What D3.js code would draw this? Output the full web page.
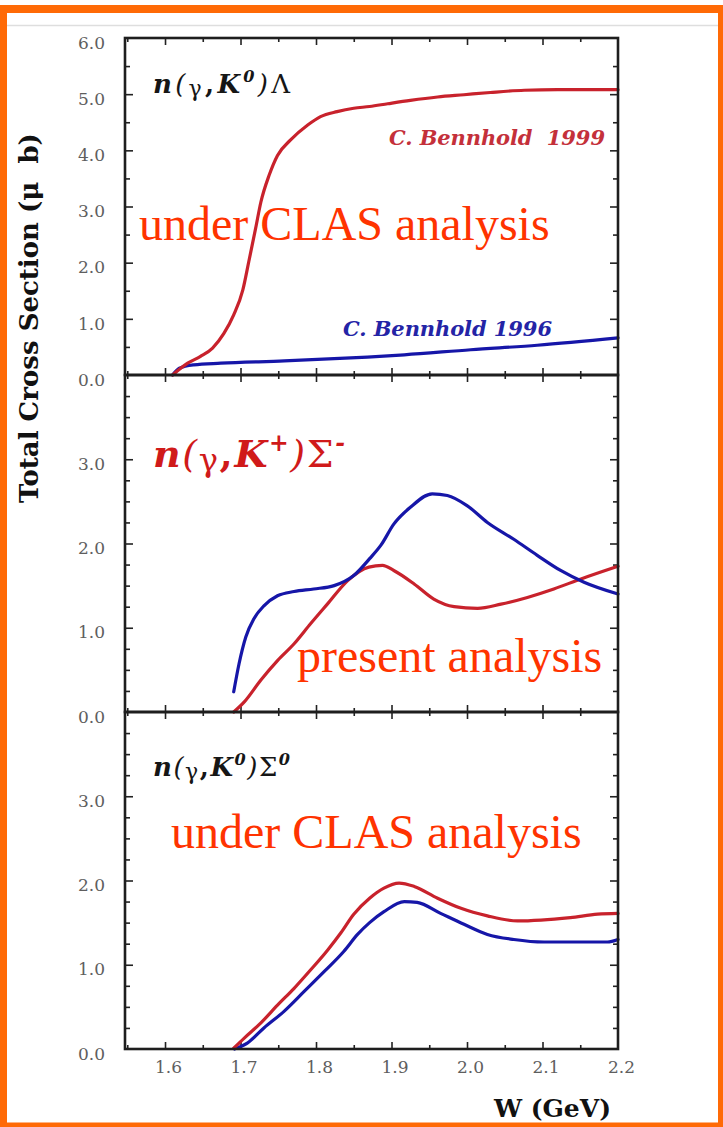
<!DOCTYPE html>
<html>
<head>
<meta charset="utf-8">
<script src="https://cdn.jsdelivr.net/npm/d3@7"></script>
<style>
  body { margin: 0; background: #fff; }
  svg { display: block; }
</style>
</head>
<body>
<svg id="chart" width="723" height="1127"></svg>
<script>
// ---- data: total cross section (μb) versus W (GeV) ----
const wTicks = [1.6, 1.7, 1.8, 1.9, 2.0, 2.1, 2.2];
const topYTicks = [0, 1, 2, 3, 4, 5, 6];
const midYTicks = [0, 1, 2, 3];
const botYTicks = [0, 1, 2, 3];

// n(γ,K0)Λ
const lambda1999 = [[1.610,0],[1.630,0.21],[1.647,0.33],[1.663,0.48],[1.678,0.74],[1.691,1.07],[1.703,1.51],[1.711,2.02],[1.720,2.61],[1.727,3.08],[1.738,3.56],[1.749,3.91],[1.766,4.18],[1.789,4.45],[1.806,4.60],[1.828,4.69],[1.850,4.75],[1.871,4.78],[1.895,4.83],[1.925,4.89],[1.961,4.95],[1.996,4.99],[2.031,5.03],[2.076,5.07],[2.120,5.08],[2.200,5.08]];
const lambda1996 = [[1.610,0],[1.619,0.12],[1.638,0.18],[1.674,0.21],[1.758,0.25],[1.868,0.32],[1.917,0.36],[2.005,0.45],[2.093,0.53],[2.200,0.66]];

// n(γ,K+)Σ-
const sigmaMinusRed = [[1.691,0],[1.705,0.12],[1.727,0.38],[1.749,0.61],[1.771,0.81],[1.793,1.05],[1.815,1.28],[1.842,1.56],[1.870,1.72],[1.888,1.74],[1.903,1.68],[1.930,1.52],[1.956,1.34],[1.983,1.25],[2.014,1.23],[2.045,1.28],[2.080,1.36],[2.115,1.46],[2.151,1.58],[2.200,1.73]];
const sigmaMinusBlue = [[1.691,0.24],[1.698,0.57],[1.707,0.89],[1.718,1.11],[1.731,1.26],[1.749,1.38],[1.771,1.43],[1.797,1.46],[1.824,1.50],[1.850,1.62],[1.871,1.82],[1.886,1.98],[1.903,2.23],[1.925,2.43],[1.954,2.59],[1.974,2.57],[2.000,2.45],[2.027,2.25],[2.062,2.05],[2.093,1.86],[2.124,1.68],[2.155,1.54],[2.200,1.40]];

// n(γ,K0)Σ0
const sigmaZeroRed = [[1.691,0.01],[1.705,0.13],[1.727,0.31],[1.749,0.52],[1.771,0.72],[1.793,0.94],[1.815,1.17],[1.833,1.38],[1.850,1.60],[1.871,1.79],[1.890,1.91],[1.910,1.97],[1.930,1.93],[1.961,1.79],[1.992,1.67],[2.027,1.58],[2.067,1.52],[2.098,1.53],[2.137,1.56],[2.173,1.60],[2.200,1.61]];
const sigmaZeroBlue = [[1.692,0],[1.709,0.07],[1.731,0.25],[1.758,0.45],[1.784,0.68],[1.811,0.92],[1.837,1.16],[1.855,1.36],[1.871,1.50],[1.890,1.63],[1.917,1.75],[1.934,1.74],[1.965,1.61],[1.996,1.48],[2.027,1.36],[2.062,1.30],[2.102,1.27],[2.186,1.27],[2.200,1.30]];

// ---- drawing ----
const RED = "#c8222c", BLUE = "#1616a8", NOTE = "#ff3300";
const svg = d3.select("#chart");

// outer slide frame
svg.append("rect").attr("x", 0).attr("y", 0).attr("width", 723).attr("height", 1127).attr("fill", "#fff");
svg.append("line").attr("x1", 7).attr("x2", 718).attr("y1", 25.5).attr("y2", 25.5)
   .attr("stroke", "#dedede").attr("stroke-width", 1.5);
const frameColor = "#ff6a06";
svg.append("rect").attr("x", 0).attr("y", 5).attr("width", 723).attr("height", 8).attr("fill", frameColor);
svg.append("rect").attr("x", 0).attr("y", 5).attr("width", 7).attr("height", 1122).attr("fill", frameColor);
svg.append("rect").attr("x", 718).attr("y", 5).attr("width", 5).attr("height", 1122).attr("fill", frameColor);
svg.append("rect").attr("x", 0).attr("y", 1122.5).attr("width", 723).attr("height", 4.5).attr("fill", frameColor);

const x = d3.scaleLinear().domain([1.547, 2.2]).range([125, 618]);
const xMajor = d3.range(1.6, 2.201, 0.1);
const xMinor = d3.range(1.55, 2.2, 0.1);

const panels = [
  { top: 38,  bottom: 375,  max: 6, labels: topYTicks, minorStep: 0.5,
    series: [[lambda1996, BLUE], [lambda1999, RED]] },
  { top: 375, bottom: 712,  max: 4, labels: midYTicks, minorStep: 0.25,
    series: [[sigmaMinusRed, RED], [sigmaMinusBlue, BLUE]] },
  { top: 712, bottom: 1049, max: 4, labels: botYTicks, minorStep: 0.25,
    series: [[sigmaZeroBlue, BLUE], [sigmaZeroRed, RED]] }
];

const tickStyle = g => {
  g.select(".domain").remove();
  g.selectAll(".tick line").attr("stroke", "#222").attr("stroke-width", 1.6);
};

panels.forEach(p => {
  const y = d3.scaleLinear().domain([0, p.max]).range([p.bottom, p.top]);
  const g = svg.append("g");
  const yMajor = d3.range(1, p.max, 1);
  const yMinor = d3.range(p.minorStep, p.max, p.minorStep).filter(v => Math.abs(v - Math.round(v)) > 1e-6);

  // inward ticks on the four sides
  g.append("g").attr("transform", `translate(${x.range()[0]},0)`)
    .call(d3.axisRight(y).tickValues(yMajor).tickSize(8).tickFormat("")).call(tickStyle);
  g.append("g").attr("transform", `translate(${x.range()[0]},0)`)
    .call(d3.axisRight(y).tickValues(yMinor).tickSize(5).tickFormat("")).call(tickStyle);
  g.append("g").attr("transform", `translate(${x.range()[1]},0)`)
    .call(d3.axisLeft(y).tickValues(yMajor).tickSize(8).tickFormat("")).call(tickStyle);
  g.append("g").attr("transform", `translate(${x.range()[1]},0)`)
    .call(d3.axisLeft(y).tickValues(yMinor).tickSize(5).tickFormat("")).call(tickStyle);
  g.append("g").attr("transform", `translate(0,${p.top})`)
    .call(d3.axisBottom(x).tickValues(xMajor.slice(0, -1)).tickSize(7).tickFormat("")).call(tickStyle);
  g.append("g").attr("transform", `translate(0,${p.top})`)
    .call(d3.axisBottom(x).tickValues(xMinor).tickSize(4).tickFormat("")).call(tickStyle);
  g.append("g").attr("transform", `translate(0,${p.bottom})`)
    .call(d3.axisTop(x).tickValues(xMajor.slice(0, -1)).tickSize(7).tickFormat("")).call(tickStyle);
  g.append("g").attr("transform", `translate(0,${p.bottom})`)
    .call(d3.axisTop(x).tickValues(xMinor).tickSize(4).tickFormat("")).call(tickStyle);

  // y tick labels
  const lab = g.append("g").attr("transform", `translate(${x.range()[0]},0)`)
    .call(d3.axisLeft(y).tickValues(p.labels).tickSize(0).tickPadding(20).tickFormat(d3.format(".1f")));
  lab.select(".domain").remove();
  lab.selectAll("text").attr("font-family", "'DejaVu Serif', serif").attr("font-size", 17)
    .attr("fill", "#5e5e5e").attr("dy", "0.6em");

  // curves
  const line = d3.line().x(d => x(d[0])).y(d => y(d[1])).curve(d3.curveMonotoneX);
  p.series.forEach(([data, color]) => {
    g.append("path").datum(data).attr("d", line)
      .attr("fill", "none").attr("stroke", color).attr("stroke-width", 3.2)
      .attr("stroke-linejoin", "round").attr("stroke-linecap", "round");
  });

  // frame
  g.append("rect").attr("x", x.range()[0]).attr("y", p.top)
    .attr("width", x.range()[1] - x.range()[0]).attr("height", p.bottom - p.top)
    .attr("fill", "none").attr("stroke", "#1e1e1e").attr("stroke-width", 2.6);
});

// x tick labels
const xl = svg.append("g").attr("transform", "translate(3,1049)")
  .call(d3.axisBottom(x).tickValues(wTicks).tickSize(0).tickPadding(12).tickFormat(d3.format(".1f")));
xl.select(".domain").remove();
xl.selectAll("text").attr("font-family", "'DejaVu Serif', serif").attr("font-size", 17).attr("fill", "#5e5e5e");

// axis titles
svg.append("text").attr("transform", "translate(38,318) rotate(-90)")
  .attr("text-anchor", "middle").attr("font-family", "'DejaVu Serif', serif")
  .attr("font-weight", "bold").attr("font-size", 26).attr("fill", "#111")
  .attr("xml:space", "preserve")
  .text("Total Cross Section (μ  b)");
svg.append("text").attr("x", 611).attr("y", 1117).attr("text-anchor", "end")
  .attr("font-family", "'DejaVu Serif', serif").attr("font-weight", "bold")
  .attr("font-size", 25).attr("fill", "#111").text("W (GeV)");

// reaction labels
function reaction(xp, yp, size, color, width, hyperon, hypSup) {
  const t = svg.append("text").attr("x", xp).attr("y", yp)
    .attr("font-family", "'DejaVu Serif', serif").attr("font-size", size).attr("fill", color)
    .attr("textLength", width).attr("lengthAdjust", "spacing");
  t.append("tspan").attr("font-weight", "bold").attr("font-style", "italic").text("n");
  t.append("tspan").attr("font-style", "italic").text("(");
  t.append("tspan").attr("font-size", size * 0.85).attr("dy", size * 0.1).text("γ");
  t.append("tspan").attr("font-weight", "bold").attr("dy", -size * 0.1).text(",");
  t.append("tspan").attr("font-weight", "bold").attr("font-style", "italic").text("K");
  t.append("tspan").attr("font-weight", "bold").attr("font-style", "italic")
    .attr("font-size", size * 0.62).attr("dy", -size * 0.42).text(hypSup[0]);
  t.append("tspan").attr("font-style", "italic").attr("dy", size * 0.42).text(")");
  t.append("tspan").text(hyperon);
  if (hypSup[1]) {
    t.append("tspan").attr("font-style", "italic").attr("font-weight", "bold")
      .attr("font-size", size * 0.62).attr("dy", -size * 0.42).text(hypSup[1]);
  }
}
reaction(153, 93, 26, "#161616", 137, "Λ", ["0", null]);
reaction(153, 467, 38, "#d01a1a", 192, "Σ", ["+", "-"]);
reaction(153, 776, 26, "#161616", 137, "Σ", ["0", "0"]);

// model labels
svg.append("text").attr("x", 389).attr("y", 145).attr("textLength", 216).attr("lengthAdjust", "spacing")
  .attr("font-family", "'DejaVu Serif', serif").attr("font-weight", "bold").attr("font-style", "italic")
  .attr("font-size", 21).attr("fill", "#c4303a").attr("xml:space", "preserve").text("C. Bennhold  1999");
svg.append("text").attr("x", 343).attr("y", 336).attr("textLength", 209).attr("lengthAdjust", "spacing")
  .attr("font-family", "'DejaVu Serif', serif").attr("font-weight", "bold").attr("font-style", "italic")
  .attr("font-size", 21).attr("fill", "#2424a6").text("C. Bennhold 1996");

// analysis status notes
const notes = [["under CLAS analysis", 139, 240], ["present analysis", 297, 672], ["under CLAS analysis", 171, 848]];
notes.forEach(([txt, xp, yp]) => {
  svg.append("text").attr("x", xp).attr("y", yp)
    .attr("font-family", "'Liberation Serif', 'Times New Roman', serif")
    .attr("font-size", 48).attr("fill", NOTE).text(txt);
});
</script>
</body>
</html>
